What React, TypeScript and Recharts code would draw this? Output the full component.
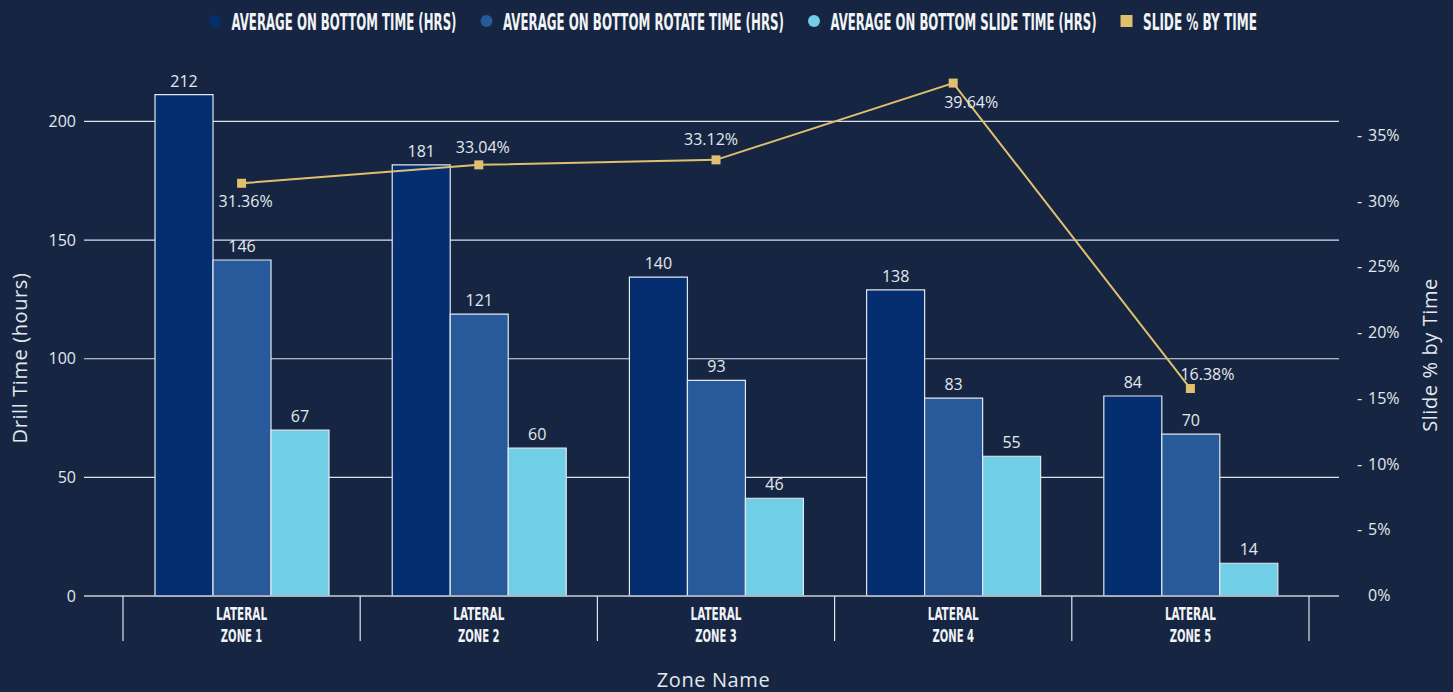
import {
	Bar,
	CartesianGrid,
	ComposedChart,
	Label,
	LabelList,
	Line,
	XAxis,
	YAxis,
} from 'recharts'

// values
const ZONES = ['LATERAL ZONE 1', 'LATERAL ZONE 2', 'LATERAL ZONE 3', 'LATERAL ZONE 4', 'LATERAL ZONE 5']

const AVG_BOTTOM = [211.3, 181.7, 134.4, 129.0, 84.3]
const AVG_ROTATE = [141.6, 118.8, 90.9, 83.4, 68.2]
const AVG_SLIDE = [69.9, 62.3, 41.2, 58.9, 13.8]
const SLIDE_PCT = [31.39, 32.79, 33.17, 39.01, 15.78]

// printed labels on the chart
const AVG_BOTTOM_LABELS = ['212', '181', '140', '138', '84']
const AVG_ROTATE_LABELS = ['146', '121', '93', '83', '70']
const AVG_SLIDE_LABELS = ['67', '60', '46', '55', '14']
const SLIDE_PCT_LABELS = ['31.36%', '33.04%', '33.12%', '39.64%', '16.38%']

const LEFT_TICKS = [0, 50, 100, 150, 200]
const RIGHT_TICKS = [0, 5, 10, 15, 20, 25, 30, 35]
const LEFT_MAX = 220
const RIGHT_MAX = 39.7

const SERIES = [
	{ name: 'Average On Bottom Time (hrs)', color: '#042e6f', shape: 'circle' },
	{ name: 'Average On Bottom Rotate Time (hrs)', color: '#285a9b', shape: 'circle' },
	{ name: 'Average On Bottom Slide Time (hrs)', color: '#70cfe6', shape: 'circle' },
	{ name: 'Slide % by Time', color: '#e0c06e', shape: 'square' },
]

const data = ZONES.map((zone, i) => ({
	zone,
	bottom: AVG_BOTTOM[i],
	rotate: AVG_ROTATE[i],
	slide: AVG_SLIDE[i],
	pct: SLIDE_PCT[i],
	bottomLabel: AVG_BOTTOM_LABELS[i],
	rotateLabel: AVG_ROTATE_LABELS[i],
	slideLabel: AVG_SLIDE_LABELS[i],
	pctLabel: SLIDE_PCT_LABELS[i],
}))

// layout
const W = 1453
const H = 692
const BG = '#162642'
const TEXT = '#e4e8ee'
const NUM_FONT = "'Open Sans', sans-serif"
const CAP_FONT = "'DejaVu Sans Condensed', 'DejaVu Sans', sans-serif"
const SQUEEZE = 0.6 // horizontal squeeze to mimic the condensed caption font
const LEFT_W = 84
const RIGHT_W = 114
const PAD_L = 39
const PAD_R = 30
const BAND = (W - LEFT_W - RIGHT_W - PAD_L - PAD_R) / ZONES.length

const LEGEND_TEXT_W = [225, 281, 266, 114]
const LEGEND_START = 215
// label offsets from the marker: [dx, dy to baseline]
const PCT_LABEL_OFFSET = [
	[4, 24],
	[4, -12],
	[-5, -15],
	[18, 25],
	[17, -9],
]

function CapText({ x, y, width, size, anchor = 'start', children }: any) {
	return (
		<text
			transform={`translate(${x} ${y}) scale(${SQUEEZE} 1)`}
			textAnchor={anchor}
			fill="#f1f3f7"
			fontFamily={CAP_FONT}
			fontWeight="bold"
			fontSize={size}
			textLength={width / SQUEEZE}
			lengthAdjust="spacingAndGlyphs"
		>
			{children}
		</text>
	)
}

function Legend() {
	let cx = LEGEND_START
	const items = SERIES.map((s, i) => {
		const tx = cx + 16.5
		const el = (
			<g key={s.name}>
				{s.shape === 'circle' ? (
					<circle cx={cx} cy={21} r={6} fill={s.color} />
				) : (
					<rect x={cx - 6} y={15} width={12} height={12} fill={s.color} />
				)}
				<CapText x={tx} y={30} width={LEGEND_TEXT_W[i]} size={23}>
					{s.name.toUpperCase()}
				</CapText>
			</g>
		)
		cx = tx + LEGEND_TEXT_W[i] + 30
		return el
	})
	return (
		<svg width={W} height={45} style={{ position: 'absolute', left: 0, top: 0 }}>
			{items}
		</svg>
	)
}

function ZoneTick({ x, y, payload, index }: any) {
	const words = String(payload.value).split(' ')
	const line2 = words.slice(-2).join(' ')
	const line1 = words.slice(0, -2).join(' ')
	return (
		<g>
			<line x1={x - BAND / 2} x2={x - BAND / 2} y1={y} y2={y + 45} stroke="#dfe3ea" strokeWidth={1.2} />
			{index === ZONES.length - 1 && (
				<line x1={x + BAND / 2} x2={x + BAND / 2} y1={y} y2={y + 45} stroke="#dfe3ea" strokeWidth={1.2} />
			)}
			<CapText x={x} y={y + 24} width={51} size={17} anchor="middle">
				{line1}
			</CapText>
			<CapText x={x} y={y + 46} width={41.5} size={17} anchor="middle">
				{line2}
			</CapText>
		</g>
	)
}

function PctTick({ x, y, payload }: any) {
	return (
		<g fontFamily={NUM_FONT} fontSize={16} fill={TEXT}>
			{payload.value !== 0 && (
				<text x={x + 18} y={y + 5}>
					-
				</text>
			)}
			<text x={x + 29} y={y + 5}>
				{payload.value}%
			</text>
		</g>
	)
}

function SquareDot({ cx, cy }: any) {
	if (cx == null || cy == null) return null
	return <rect x={cx - 4.5} y={cy - 4.5} width={9} height={9} fill={SERIES[3].color} />
}

function barLabel({ x, y, width, value }: any) {
	return (
		<text x={x + width / 2} y={y - 8} textAnchor="middle" fill={TEXT} fontFamily={NUM_FONT} fontSize={16}>
			{value}
		</text>
	)
}

function pctLabel({ x, y, value, index }: any) {
	const [dx, dy] = PCT_LABEL_OFFSET[index] ?? [0, -10]
	return (
		<text x={x + dx} y={y + dy} textAnchor="middle" fill={TEXT} fontFamily={NUM_FONT} fontSize={16}>
			{value}
		</text>
	)
}

function axisTitle(text: string, dx: number, dy: number) {
	return ({ viewBox }: any) => {
		const cx = viewBox.x + viewBox.width / 2 + dx
		const cy = viewBox.y + viewBox.height / 2 + dy
		return (
			<text
				x={cx}
				y={cy}
				transform={`rotate(-90, ${cx}, ${cy})`}
				textAnchor="middle"
				dominantBaseline="central"
				fill={TEXT}
				fontFamily={NUM_FONT}
				fontSize={20}
				letterSpacing={0.6}
			>
				{text}
			</text>
		)
	}
}

// grid only at the left axis ticks (no line at the top of the plot)
function gridRows({ offset }: any) {
	if (!offset) return []
	return LEFT_TICKS.map((t) => offset.top + offset.height * (1 - t / LEFT_MAX))
}

export default function App() {
	return (
		<div style={{ position: 'absolute', left: 0, top: 0, width: W, height: H, background: BG, overflow: 'hidden' }}>
			<Legend />
			<ComposedChart
				width={W}
				height={H}
				data={data}
				margin={{ top: 74, right: 0, bottom: 0, left: 0 }}
				barCategoryGap="13.5%"
				barGap={0}
			>
				<CartesianGrid
					yAxisId="left"
					vertical={false}
					stroke="#dde1e8"
					strokeWidth={1.2}
					horizontalCoordinatesGenerator={gridRows}
				/>
				<XAxis
					dataKey="zone"
					height={96}
					padding={{ left: PAD_L, right: PAD_R }}
					tickLine={false}
					tickSize={0}
					tickMargin={0}
					axisLine={{ stroke: '#aab0bb', strokeWidth: 1.5 }}
					tick={<ZoneTick />}
					interval={0}
				>
					<Label
						position="insideBottom"
						content={({ viewBox }: any) => (
							<text
								x={viewBox.x + viewBox.width / 2 + 2}
								y={687}
								textAnchor="middle"
								fill={TEXT}
								fontFamily={NUM_FONT}
								fontSize={20}
								letterSpacing={0.6}
							>
								Zone Name
							</text>
						)}
					/>
				</XAxis>
				<YAxis
					yAxisId="left"
					width={LEFT_W}
					domain={[0, LEFT_MAX]}
					ticks={LEFT_TICKS}
					axisLine={false}
					tickLine={false}
					tick={{ fill: TEXT, fontFamily: NUM_FONT, fontSize: 16 }}
				>
					<Label content={axisTitle('Drill Time (hours)', -23, 23)} />
				</YAxis>
				<YAxis
					yAxisId="right"
					orientation="right"
					width={RIGHT_W}
					domain={[0, RIGHT_MAX]}
					ticks={RIGHT_TICKS}
					axisLine={false}
					tickLine={false}
					tickSize={0}
					tickMargin={0}
					tick={<PctTick />}
				>
					<Label content={axisTitle('Slide % by Time', 33, 20)} />
				</YAxis>
				<Bar yAxisId="left" dataKey="bottom" name={SERIES[0].name} fill={SERIES[0].color} stroke="#e3e8ef" strokeWidth={1.2} isAnimationActive={false}>
					<LabelList dataKey="bottomLabel" content={barLabel} />
				</Bar>
				<Bar yAxisId="left" dataKey="rotate" name={SERIES[1].name} fill={SERIES[1].color} stroke="#e3e8ef" strokeWidth={1.2} isAnimationActive={false}>
					<LabelList dataKey="rotateLabel" content={barLabel} />
				</Bar>
				<Bar yAxisId="left" dataKey="slide" name={SERIES[2].name} fill={SERIES[2].color} stroke="#e3e8ef" strokeWidth={1.2} isAnimationActive={false}>
					<LabelList dataKey="slideLabel" content={barLabel} />
				</Bar>
				<Line
					yAxisId="right"
					dataKey="pct"
					name={SERIES[3].name}
					stroke={SERIES[3].color}
					strokeWidth={2}
					dot={<SquareDot />}
					activeDot={false}
					isAnimationActive={false}
				>
					<LabelList dataKey="pctLabel" content={pctLabel} />
				</Line>
			</ComposedChart>
		</div>
	)
}
